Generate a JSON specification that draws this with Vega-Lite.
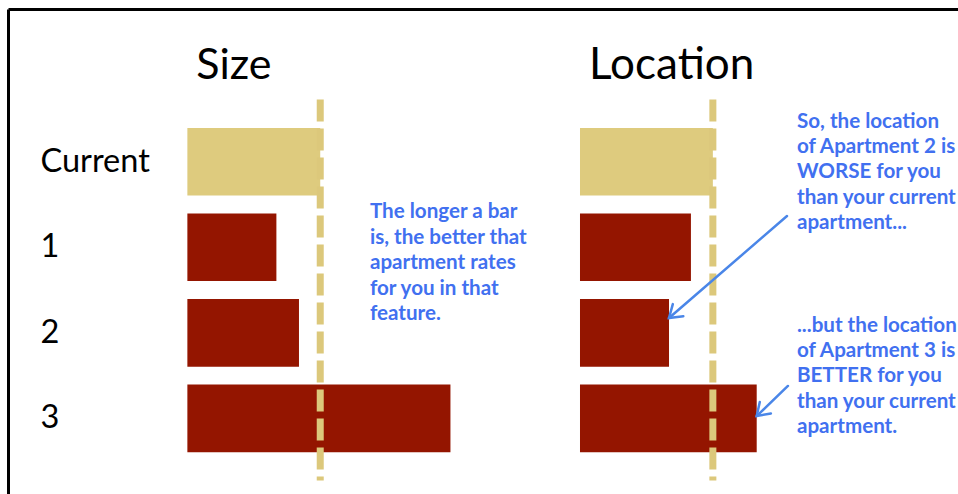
{
  "$schema": "https://vega.github.io/schema/vega-lite/v6.json",
  "width": 950,
  "height": 485,
  "autosize": "none",
  "padding": {"left": 8, "top": 9, "right": 0, "bottom": 0},
  "background": "white",
  "config": {
    "view": {"stroke": null},
    "font": "Lato",
    "axisY": {"domainColor": "#000000", "domainWidth": 3, "ticks": false, "grid": false, "labelAlign": "left", "labelPadding": -32, "labelFontSize": 32.5, "labelColor": "#000000", "labelFont": "Lato", "labelBaseline": "middle", "title": null},
    "axisX": {"domainColor": "#000000", "domainWidth": 3, "ticks": false, "grid": false, "labels": false, "title": null}
  },
  "datasets": {
    "scores": [
      {"feature": "Size", "apt": "Current", "score": 100},
      {"feature": "Size", "apt": "1", "score": 67},
      {"feature": "Size", "apt": "2", "score": 84},
      {"feature": "Size", "apt": "3", "score": 198},
      {"feature": "Location", "apt": "Current", "score": 100},
      {"feature": "Location", "apt": "1", "score": 83.5},
      {"feature": "Location", "apt": "2", "score": 67},
      {"feature": "Location", "apt": "3", "score": 133}
    ],
    "notes": [
      {"id": "size", "note": "The longer a bar\nis, the better that\napartment rates\nfor you in that\nfeature."},
      {"id": "worse", "note": "So, the location\nof Apartment 2 is\nWORSE for you\nthan your current\napartment..."},
      {"id": "better", "note": "...but the location\nof Apartment 3 is\nBETTER for you\nthan your current\napartment."}
    ],
    "titles": [
      {"feature": "Size"},
      {"feature": "Location"}
    ]
  },
  "resolve": {"scale": {"x": "independent"}},
  "layer": [
    {
      "data": {"name": "scores"},
      "transform": [{"filter": "datum.feature === 'Size'"}],
      "layer": [
        {
          "mark": {"type": "bar"},
          "encoding": {
            "y": {"field": "apt", "type": "nominal", "title": null, "scale": {"domain": ["Current", "1", "2", "3"], "paddingInner": 0.21, "paddingOuter": 0.94, "align": 0.74}},
            "x": {"field": "score", "type": "quantitative", "stack": null, "title": null, "scale": {"domain": [-135, 580], "nice": false, "zero": false}, "axis": {"orient": "top"}},
            "color": {"condition": {"test": "datum.apt === 'Current'", "value": "#DECB7E"}, "value": "#941500"}
          }
        },
        {
          "transform": [{"filter": "datum.apt === 'Current'"}],
          "mark": {"type": "rule", "color": "#DCC87B", "strokeWidth": 7, "strokeDash": [22, 7]},
          "encoding": {
            "x": {"field": "score", "type": "quantitative", "title": null, "axis": {"orient": "top"}},
            "y": {"datum": "Current", "type": "nominal", "title": null, "bandPosition": -0.42},
            "y2": {"datum": "3", "bandPosition": 1.42}
          }
        },
        {
          "data": {"name": "titles"},
          "transform": [{"filter": "datum.feature === 'Size'"}],
          "mark": {"type": "text", "fontSize": 43, "align": "center", "baseline": "alphabetic", "color": "#000000"},
          "encoding": {
            "text": {"field": "feature"},
            "x": {"datum": 35, "type": "quantitative", "title": null, "axis": {"orient": "top"}},
            "y": {"datum": "Current", "type": "nominal", "title": null, "bandPosition": -0.725}
          }
        },
        {
          "data": {"name": "notes"},
          "transform": [{"filter": "datum.id === 'size'"}],
          "mark": {"type": "text", "align": "left", "baseline": "alphabetic", "fontSize": 20.6, "fontWeight": "bold", "color": "#4170F0", "lineBreak": "\n", "lineHeight": 25.6},
          "encoding": {
            "text": {"field": "note"},
            "x": {"datum": 137.4, "type": "quantitative", "title": null, "axis": {"orient": "top"}},
            "y": {"datum": "1", "type": "nominal", "title": null, "bandPosition": 0.067}
          }
        }
      ]
    },
    {
      "data": {"name": "scores"},
      "transform": [{"filter": "datum.feature === 'Location'"}],
      "layer": [
        {
          "mark": {"type": "bar"},
          "encoding": {
            "y": {"field": "apt", "type": "nominal", "title": null},
            "x": {"field": "score", "type": "quantitative", "stack": null, "scale": {"domain": [-430.5, 284.5], "nice": false, "zero": false}, "axis": null},
            "color": {"condition": {"test": "datum.apt === 'Current'", "value": "#DECB7E"}, "value": "#941500"}
          }
        },
        {
          "transform": [{"filter": "datum.apt === 'Current'"}],
          "mark": {"type": "rule", "color": "#DCC87B", "strokeWidth": 7, "strokeDash": [22, 7]},
          "encoding": {
            "x": {"field": "score", "type": "quantitative", "axis": null},
            "y": {"datum": "Current", "type": "nominal", "title": null, "bandPosition": -0.42},
            "y2": {"datum": "3", "bandPosition": 1.42}
          }
        },
        {
          "data": {"name": "titles"},
          "transform": [{"filter": "datum.feature === 'Location'"}],
          "mark": {"type": "text", "fontSize": 44, "align": "center", "baseline": "alphabetic", "color": "#000000"},
          "encoding": {
            "text": {"field": "feature"},
            "x": {"datum": 69, "type": "quantitative", "axis": null},
            "y": {"datum": "Current", "type": "nominal", "title": null, "bandPosition": -0.725}
          }
        },
        {
          "data": {"name": "notes"},
          "transform": [{"filter": "datum.id === 'worse'"}],
          "mark": {"type": "text", "align": "left", "baseline": "alphabetic", "fontSize": 20.6, "fontWeight": "bold", "color": "#4170F0", "lineBreak": "\n", "lineHeight": 25.2},
          "encoding": {
            "text": {"field": "note"},
            "x": {"datum": 163.3, "type": "quantitative", "axis": null},
            "y": {"datum": "Current", "type": "nominal", "title": null, "bandPosition": 0}
          }
        },
        {
          "data": {"name": "notes"},
          "transform": [{"filter": "datum.id === 'better'"}],
          "mark": {"type": "text", "align": "left", "baseline": "alphabetic", "fontSize": 20.6, "fontWeight": "bold", "color": "#4170F0", "lineBreak": "\n", "lineHeight": 25.2},
          "encoding": {
            "text": {"field": "note"},
            "x": {"datum": 163.3, "type": "quantitative", "axis": null},
            "y": {"datum": "2", "type": "nominal", "title": null, "bandPosition": 0.487}
          }
        },
        {
          "transform": [{"filter": "datum.apt === '2'"}],
          "mark": {"type": "rule", "color": "#4A86E8", "strokeWidth": 2.5, "strokeCap": "round"},
          "encoding": {
            "x": {"field": "score", "type": "quantitative", "axis": null},
            "x2": {"datum": 155.8},
            "y": {"field": "apt", "type": "nominal", "title": null, "bandPosition": 0.28},
            "y2": {"datum": "1", "bandPosition": 0.037}
          }
        },
        {
          "transform": [{"filter": "datum.apt === '2'"}],
          "mark": {"type": "point", "shape": "M -1.2 -0.8 L 0 0 L -1.2 0.8", "filled": false, "color": "#4A86E8", "strokeWidth": 2.5, "strokeCap": "round", "strokeJoin": "miter", "size": 400, "angle": 139, "opacity": 1},
          "encoding": {
            "x": {"field": "score", "type": "quantitative", "axis": null},
            "y": {"field": "apt", "type": "nominal", "title": null, "bandPosition": 0.28}
          }
        },
        {
          "transform": [{"filter": "datum.apt === '3'"}],
          "mark": {"type": "rule", "color": "#4A86E8", "strokeWidth": 2.5, "strokeCap": "round"},
          "encoding": {
            "x": {"field": "score", "type": "quantitative", "axis": null},
            "x2": {"datum": 156.5},
            "y": {"field": "apt", "type": "nominal", "title": null, "bandPosition": 0.465},
            "y2": {"datum": "3", "bandPosition": 0.02}
          }
        },
        {
          "transform": [{"filter": "datum.apt === '3'"}],
          "mark": {"type": "point", "shape": "M -1.2 -0.8 L 0 0 L -1.2 0.8", "filled": false, "color": "#4A86E8", "strokeWidth": 2.5, "strokeCap": "round", "strokeJoin": "miter", "size": 400, "angle": 136, "opacity": 1},
          "encoding": {
            "x": {"field": "score", "type": "quantitative", "axis": null},
            "y": {"field": "apt", "type": "nominal", "title": null, "bandPosition": 0.465}
          }
        }
      ]
    }
  ]
}
